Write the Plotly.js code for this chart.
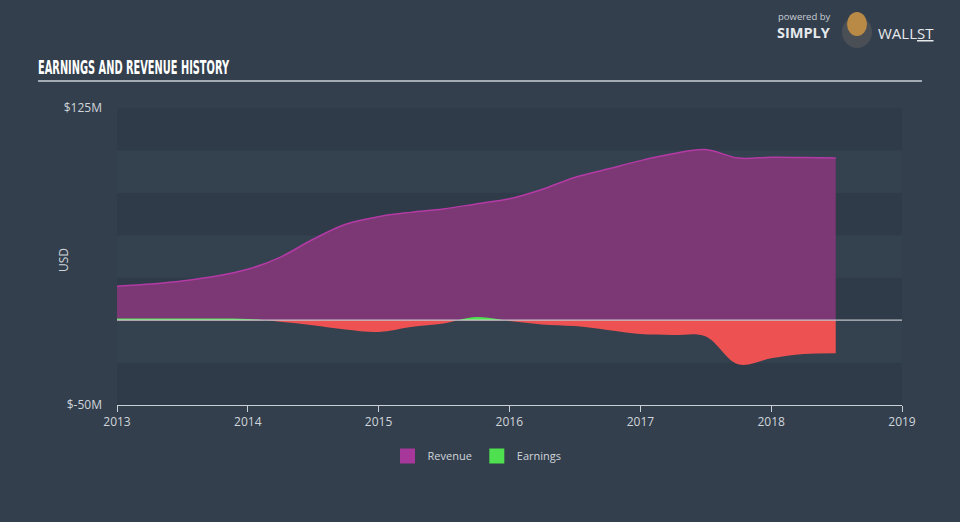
<!DOCTYPE html>
<html>
<head>
<meta charset="utf-8">
<script src="https://cdn.plot.ly/plotly-3.0.1.min.js"></script>
<style>
html,body{margin:0;padding:0;background:#333f4d;}
#chart{width:960px;height:522px;}
</style>
</head>
<body>
<div id="chart"></div>
<script>
// ---- data (USD millions) ----
const dates = ["2013-01-01","2013-07-01","2014-01-01","2014-04-01","2014-07-01","2014-10-01",
  "2015-01-01","2015-04-01","2015-07-01","2015-10-01","2016-01-01","2016-04-01","2016-07-01",
  "2016-10-01","2017-01-01","2017-04-01","2017-07-01","2017-10-01","2018-01-01","2018-04-01","2018-06-30"];
const revenue = [20, 23, 30, 37, 47.5, 56.5, 61, 63.5, 65.5, 68.5, 71.5, 77, 84, 89, 94, 98, 100.5, 95.5, 96, 95.8, 95.5];
const earnings = [1.0, 1.0, 0.7, -1, -3, -5.5, -7, -4, -2, 1.8, -0.5, -2.5, -3.5, -5.8, -8.2, -8.8, -9.5, -26, -22.5, -20, -19.5];
const yTickVals = [-50, 125];
const yTickText = ["$-50M", "$125M"];
const xTickVals = ["2013-01-01","2014-01-01","2015-01-01","2016-01-01","2017-01-01","2018-01-01","2019-01-01"];
const xTickText = ["2013","2014","2015","2016","2017","2018","2019"];
const seriesNames = ["Revenue", "Earnings"];
const chartTitle = "EARNINGS AND REVENUE HISTORY";

const FONT = "Open Sans, Lato, sans-serif";
const purpleLine = "#b43aa5", purpleFill = "#7b3875";
const red = "#ee5151", green = "#4fe04f";

const traces = [
  {x: dates, y: revenue, type: "scatter", mode: "lines", line: {shape: "spline", color: purpleLine, width: 1.5},
   fill: "tozeroy", fillcolor: purpleFill, showlegend: false, hoverinfo: "skip"},
  {x: dates, y: earnings, type: "scatter", mode: "lines", line: {shape: "spline", color: "rgba(0,0,0,0)", width: 0},
   fill: "tozeroy", fillgradient: {type: "vertical", start: -30, stop: 30,
     colorscale: [[0, red], [0.5, red], [0.5, green], [1, green]]},
   showlegend: false, hoverinfo: "skip"},
  {x: [null], y: [null], type: "scatter", mode: "markers", name: seriesNames[0],
   marker: {symbol: "square", size: 15, color: "#a8379b"}},
  {x: [null], y: [null], type: "scatter", mode: "markers", name: seriesNames[1],
   marker: {symbol: "square", size: 15, color: green}}
];

// alternating horizontal bands
const shapes = [];
for (let v = -50; v < 125; v += 25) {
  const idx = (v + 50) / 25;
  shapes.push({type: "rect", xref: "paper", yref: "y", x0: 0, x1: 1, y0: v, y1: v + 25,
    fillcolor: (idx % 2 === 0) ? "#2f3b48" : "#344250", line: {width: 0}, layer: "below"});
}
// zero line
shapes.push({type: "line", xref: "paper", yref: "y", x0: 0, x1: 1, y0: 0, y1: 0,
  line: {color: "rgba(205,210,215,0.9)", width: 1.2}, layer: "above"});
// title underline
shapes.push({type: "line", xref: "paper", yref: "paper", x0: -79/785, x1: 1 + 20/785, y0: 1 + 27/297, y1: 1 + 27/297,
  line: {color: "#a3abb4", width: 2}});
// logo circle
shapes.push({type: "circle", xref: "paper", yref: "paper",
  x0: (842-117)/785, x1: (872-117)/785, y0: 1 + (108-48)/297, y1: 1 + (108-16)/297,
  fillcolor: "#4a4f55", line: {width: 0}});
shapes.push({type: "circle", xref: "paper", yref: "paper",
  x0: (847-117)/785, x1: (867-117)/785, y0: 1 + (108-36)/297, y1: 1 + (108-12)/297,
  fillcolor: "#b88a45", line: {width: 0}});

const annotations = [
  {text: "<b>" + chartTitle + "</b>", xref: "paper", yref: "paper", x: -80/785, y: 1 + (108-67)/297,
   xanchor: "left", yanchor: "middle", showarrow: false,
   font: {family: "Liberation Sans Narrow, DejaVu Sans Condensed, sans-serif", size: 20, color: "#ffffff"}},
  {text: "USD", xref: "paper", yref: "paper", x: (63-117)/785, y: (405-260)/297, textangle: -90,
   xanchor: "center", yanchor: "middle", showarrow: false, font: {family: FONT, size: 12, color: "#d0d5da"}},
  {text: "powered by", xref: "paper", yref: "paper", x: (776-117)/785, y: 1 + (108-17)/297,
   xanchor: "left", yanchor: "middle", showarrow: false, font: {family: FONT, size: 9.5, color: "#c8ced4"}},
  {text: "<b>SIMPLY</b>", xref: "paper", yref: "paper", x: (775-117)/785, y: 1 + (108-33)/297,
   xanchor: "left", yanchor: "middle", showarrow: false, font: {family: FONT, size: 14.5, color: "#e6e9ec"}},
  {text: "WALL<span style='text-decoration:underline'>ST</span>", xref: "paper", yref: "paper", x: (876-117)/785, y: 1 + (108-33)/297,
   xanchor: "left", yanchor: "middle", showarrow: false, font: {family: FONT, size: 15, color: "#e6e9ec"}}
];

const layout = {
  width: 960, height: 522,
  margin: {l: 117, r: 58, t: 108, b: 117},
  paper_bgcolor: "#333f4d",
  plot_bgcolor: "#344250",
  font: {family: FONT, color: "#d0d5da"},
  xaxis: {type: "date", range: ["2013-01-01", "2019-01-01"], tickvals: xTickVals, ticktext: xTickText,
    showgrid: false, zeroline: false, showline: true, linecolor: "#c9d0d6", linewidth: 1,
    ticks: "outside", ticklen: 6, tickcolor: "#c9d0d6", tickfont: {size: 12, color: "#d0d5da"}, fixedrange: true},
  yaxis: {range: [-50, 125], tickvals: yTickVals, ticktext: yTickText, showgrid: false, zeroline: false,
    showline: false, ticks: "", ticklabelstandoff: 14, tickfont: {size: 12, color: "#d0d5da"}, fixedrange: true},
  legend: {orientation: "h", x: (477-117)/785, xanchor: "center", y: -0.14 + 5/297, yanchor: "top",
    font: {size: 11, color: "#d0d5da"}, itemwidth: 30, bgcolor: "rgba(0,0,0,0)"},
  shapes: shapes,
  annotations: annotations,
  showlegend: true
};

Plotly.newPlot("chart", traces, layout, {displayModeBar: false, staticPlot: true}).then(function (gd) {
  // compress the title into a condensed look, keeping its left edge at the reference position
  const svgLeft = gd.getBoundingClientRect().left;
  gd.querySelectorAll(".annotation-text").forEach(function (t) {
    if (t.textContent === chartTitle) {
      t.setAttribute("text-anchor", "start");
      t.setAttribute("x", String(t.getBBox().x));
      t.setAttribute("textLength", "191");
      t.setAttribute("lengthAdjust", "spacingAndGlyphs");
      const nb = t.getBoundingClientRect();
      const dx = (38 + svgLeft) - nb.left;
      t.setAttribute("x", String(parseFloat(t.getAttribute("x")) + dx));
    }
  });
});
</script>
</body>
</html>
